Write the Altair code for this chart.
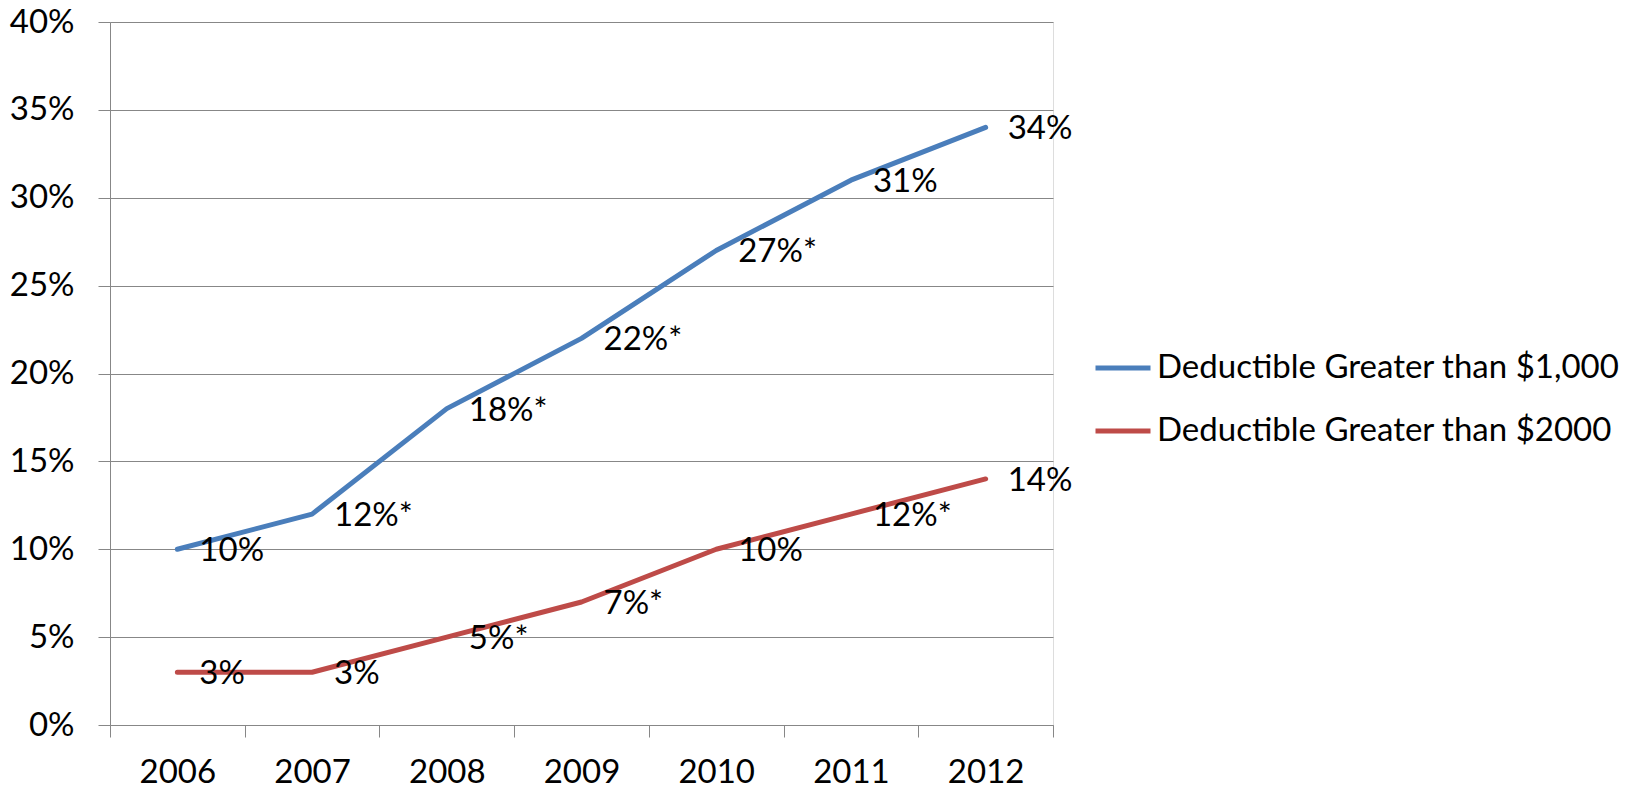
import altair as alt
import pandas as pd

years = ["2006", "2007", "2008", "2009", "2010", "2011", "2012"]
series_names = ["Deductible Greater than $1,000", "Deductible Greater than $2000"]
vals_1000 = [0.10, 0.12, 0.18, 0.22, 0.27, 0.31, 0.34]
vals_2000 = [0.03, 0.03, 0.05, 0.07, 0.10, 0.12, 0.14]
labels_1000 = ["10%", "12%*", "18%*", "22%*", "27%*", "31%", "34%"]
labels_2000 = ["3%", "3%", "5%*", "7%*", "10%", "12%*", "14%"]
y_ticks = [0, 0.05, 0.10, 0.15, 0.20, 0.25, 0.30, 0.35, 0.40]
colors = ["#4a7ebb", "#be4b48"]

rows = []
for s, vals, labs in [(series_names[0], vals_1000, labels_1000),
                      (series_names[1], vals_2000, labels_2000)]:
    for yr, v, lab in zip(years, vals, labs):
        rows.append({"year": yr, "series": s, "value": v, "label": lab})
df = pd.DataFrame(rows)

FONT = "Lato"
FS = 33
GREY = "#878787"

x_enc = alt.X("year:O", sort=years,
              scale=alt.Scale(paddingInner=0, paddingOuter=0),
              axis=alt.Axis(title=None, labelAngle=0, tickBand="extent",
                            domainColor=GREY, tickColor=GREY, tickSize=12,
                            labelPadding=19, grid=False, labelFont=FONT,
                            labelFontSize=FS, labelColor="black"))
y_enc = alt.Y("value:Q",
              scale=alt.Scale(domain=[0, 0.4], nice=False),
              axis=alt.Axis(title=None, values=y_ticks, format=".0%",
                            domainColor=GREY, tickColor=GREY, tickSize=12,
                            gridColor=GREY, gridWidth=1, labelPadding=24,
                            labelFont=FONT, labelFontSize=FS, labelColor="black"))

base = alt.Chart(df)

lines = base.mark_line(strokeWidth=5, strokeCap="round", strokeJoin="round").encode(
    x=x_enc, y=y_enc,
    color=alt.Color("series:N", sort=series_names,
                    scale=alt.Scale(domain=series_names, range=colors),
                    legend=alt.Legend(title=None, orient="none", legendX=983, legendY=316,
                                      symbolType="stroke", symbolSize=3025,
                                      symbolStrokeWidth=5, labelFont=FONT,
                                      labelFontSize=FS, labelColor="black",
                                      labelOffset=4, rowPadding=16, padding=0,
                                      labelLimit=700))
)

texts = base.mark_text(align="left", baseline="middle", dx=22, dy=2,
                       font=FONT, fontSize=FS, color="black").encode(
    x=x_enc, y=y_enc, text="label:N"
)

chart = alt.layer(lines, texts).properties(
    width=943, height=703,
    autosize=alt.AutoSizeParams(type="none"),
    padding={"left": 110, "top": 22, "right": 597, "bottom": 63},
).configure_view(stroke=None).configure(background="white")

chart.save("out.html", embed_options={"renderer": "svg", "actions": False})
